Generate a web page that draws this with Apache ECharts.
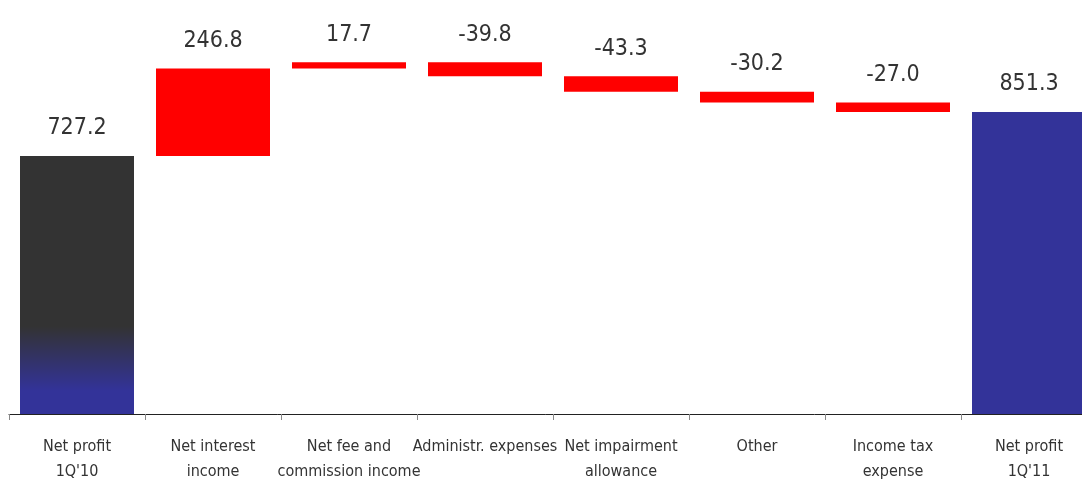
<!DOCTYPE html>
<html>
<head>
<meta charset="utf-8">
<script src="https://cdn.jsdelivr.net/npm/echarts@6/dist/echarts.min.js"></script>
<style>
html,body{margin:0;padding:0;background:#fff;}
#chart{width:1082px;height:479px;}
</style>
</head>
<body>
<div id="chart"></div>
<script>
const categories = ["Net profit\n1Q'10", "Net interest\nincome", "Net fee and\ncommission income", "Administr. expenses", "Net impairment\nallowance", "Other", "Income tax\nexpense", "Net profit\n1Q'11"];
const startValue = 727.2;
const deltas = [246.8, 17.7, -39.8, -43.3, -30.2, -27.0];
const endValue = 851.3;

const base = [0];
const visible = [startValue];
let running = startValue;
for (const d of deltas) {
  if (d >= 0) { base.push(running); running += d; }
  else { running += d; base.push(running); }
  visible.push(Math.abs(d));
}
base.push(0);
visible.push(endValue);
const labels = [startValue].concat(deltas, [endValue]).map(v => v.toFixed(1));

const gradient = new echarts.graphic.LinearGradient(0, 0, 0, 1, [
  {offset: 0, color: '#333333'},
  {offset: 0.66, color: '#333333'},
  {offset: 0.91, color: '#333399'},
  {offset: 1, color: '#333399'}
]);
const colorAt = i => i === 0 ? gradient : (i === visible.length - 1 ? '#333399' : '#ff0000');
const FONT = '"DejaVu Sans Condensed", "Liberation Sans Narrow", sans-serif';

const chart = echarts.init(document.getElementById('chart'));
chart.setOption({
  animation: false,
  grid: {left: 9, width: 1088, top: 0, bottom: 65, containLabel: false, outerBoundsMode: 'none'},
  xAxis: {
    type: 'category',
    data: categories,
    axisLine: {lineStyle: {color: '#222', width: 1}},
    axisTick: {show: true, length: 6, lineStyle: {color: '#888'}},
    axisLabel: {
      interval: 0, margin: 20,
      fontFamily: FONT,
      fontSize: 16, lineHeight: 25, color: '#333'
    }
  },
  yAxis: {type: 'value', min: 0, max: 1167, show: false, splitLine: {show: false}},
  series: [
    {
      type: 'bar', stack: 'w', data: base, barWidth: 114,
      itemStyle: {color: 'transparent'}, silent: true
    },
    {
      type: 'bar', stack: 'w', barWidth: 114,
      data: visible.map((v, i) => ({value: v, itemStyle: {color: colorAt(i)}})),
      label: {
        show: true, position: 'top', distance: 16,
        formatter: p => labels[p.dataIndex],
        fontFamily: FONT,
        fontSize: 23, color: '#333'
      }
    }
  ]
});
</script>
</body>
</html>
